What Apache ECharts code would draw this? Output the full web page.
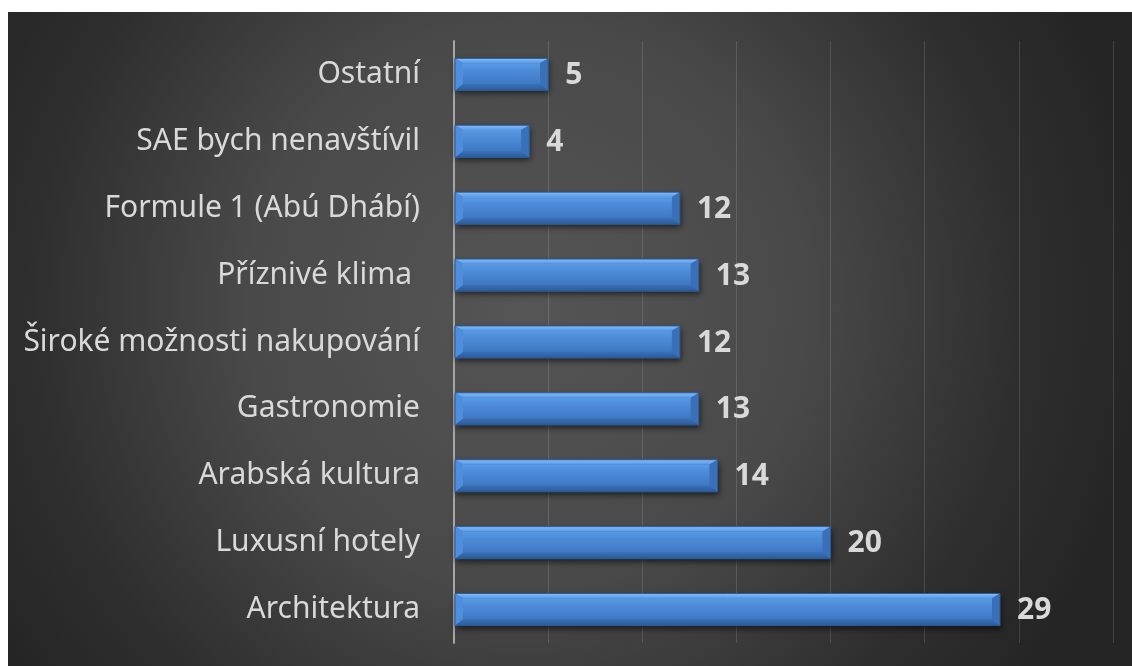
<!DOCTYPE html>
<html>
<head>
<meta charset="utf-8">
<script src="https://cdn.jsdelivr.net/npm/echarts@6/dist/echarts.min.js"></script>
<style>
  html, body { margin: 0; padding: 0; background: #ffffff; }
  #main { position: absolute; left: 8px; top: 12px; width: 1124px; height: 654px; }
</style>
</head>
<body>
<div id="main"></div>
<script>
// categories listed bottom -> top (category axis starts at the bottom)
const categories = [
  'Architektura',
  'Luxusní hotely',
  'Arabská kultura',
  'Gastronomie',
  'Široké možnosti nakupování',
  'Příznivé klima ',
  'Formule 1 (Abú Dhábí)',
  'SAE bych nenavštívil',
  'Ostatní',
];
const values = [29, 20, 14, 13, 12, 13, 12, 4, 5];
const axisMax = 35;
const axisStep = 5;

const chart = echarts.init(document.getElementById('main'));

const vgrad = (stops) => ({
  type: 'linear', x: 0, y: 0, x2: 0, y2: 1,
  colorStops: stops.map((c, i) => ({ offset: i / (stops.length - 1), color: c })),
});

// bevelled bar, drawn from the axis scale
function renderBar(params, api) {
  const cat = api.value(0);
  const val = api.value(1);
  const start = api.coord([0, cat]);
  const end = api.coord([val, cat]);
  const h = api.size([0, 1])[1] * 0.48;
  const x0 = start[0] + 1;
  const x1 = end[0];
  const y0 = start[1] - h / 2;
  const y1 = start[1] + h / 2;
  const b = Math.min(8, (x1 - x0) / 2);
  return {
    type: 'group',
    children: [
      { // shadow body
        type: 'rect',
        shape: { x: x0, y: y0, width: x1 - x0, height: h },
        style: {
          fill: '#3b74bd',
          shadowColor: 'rgba(0,0,0,0.6)', shadowBlur: 6, shadowOffsetY: 3, shadowOffsetX: 1,
        },
      },
      { // front face
        type: 'rect',
        shape: { x: x0 + b, y: y0 + b * 0.6, width: x1 - x0 - 2 * b, height: h - b * 1.4 },
        style: { fill: vgrad(['#5a9ae4', '#4d8cd8', '#4682cf', '#3f78c2']) },
      },
      { // top facet
        type: 'polygon',
        shape: { points: [[x0, y0], [x1, y0], [x1 - b, y0 + b * 0.6], [x0 + b, y0 + b * 0.6]] },
        style: { fill: vgrad(['#86c0f8', '#6eaaf0', '#5a9ae6']) },
      },
      { // bottom facet
        type: 'polygon',
        shape: { points: [[x0, y1], [x1, y1], [x1 - b, y1 - b * 0.8], [x0 + b, y1 - b * 0.8]] },
        style: { fill: vgrad(['#3a71b9', '#3366a9', '#2c5a98']) },
      },
      { // left facet
        type: 'polygon',
        shape: { points: [[x0, y0], [x0 + b, y0 + b * 0.6], [x0 + b, y1 - b * 0.8], [x0, y1]] },
        style: { fill: '#4f8edb' },
      },
      { // right facet
        type: 'polygon',
        shape: { points: [[x1, y0], [x1, y1], [x1 - b, y1 - b * 0.8], [x1 - b, y0 + b * 0.6]] },
        style: { fill: '#3a70b8' },
      },
      { // outline
        type: 'rect',
        shape: { x: x0, y: y0, width: x1 - x0, height: h },
        style: { fill: null, stroke: '#2b5a98', lineWidth: 1 },
      },
      { // value label
        type: 'text',
        style: {
          text: String(val),
          x: x1 + 17,
          y: start[1] + 1,
          verticalAlign: 'middle',
          fill: '#d9d9d9',
          font: 'bold 30px "Noto Sans"',
        },
      },
    ],
  };
}

chart.setOption({
  backgroundColor: {
    type: 'radial', x: 0.46, y: 0.45, r: 0.95,
    colorStops: [
      { offset: 0, color: '#555555' },
      { offset: 0.45, color: '#494949' },
      { offset: 0.8, color: '#2e2e2e' },
      { offset: 1, color: '#252525' },
    ],
  },
  animation: false,
  grid: { left: 446, right: 19, top: 29, bottom: 23 },
  xAxis: {
    type: 'value',
    min: 0,
    max: axisMax,
    interval: axisStep,
    axisLabel: { show: false },
    axisLine: { show: false },
    axisTick: { show: false },
    splitLine: { lineStyle: { color: 'rgba(255,255,255,0.13)', width: 1 } },
  },
  yAxis: {
    type: 'category',
    data: categories,
    axisTick: { show: false },
    axisLine: { show: true, lineStyle: { color: '#a6a6a6', width: 2 } },
    axisLabel: {
      color: '#d9d9d9',
      fontFamily: 'Noto Sans',
      fontSize: 30,
      margin: 34,
    },
  },
  series: [{
    type: 'custom',
    renderItem: renderBar,
    encode: { x: 1, y: 0 },
    data: values.map((v, i) => [i, v]),
  }],
});
</script>
</body>
</html>
